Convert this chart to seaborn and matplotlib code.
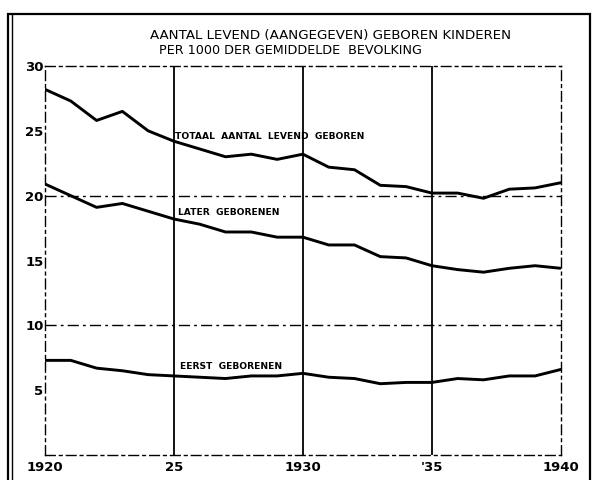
import numpy as np
import pandas as pd
import matplotlib.pyplot as plt
from matplotlib.patches import Rectangle
from matplotlib.lines import Line2D
import seaborn as sns

years = list(range(1920, 1941))
totaal = [28.2, 27.3, 25.8, 26.5, 25.0, 24.2, 23.6, 23.0, 23.2, 22.8, 23.2,
          22.2, 22.0, 20.8, 20.7, 20.2, 20.2, 19.8, 20.5, 20.6, 21.0]
later = [20.9, 20.0, 19.1, 19.4, 18.8, 18.2, 17.8, 17.2, 17.2, 16.8, 16.8,
         16.2, 16.2, 15.3, 15.2, 14.6, 14.3, 14.1, 14.4, 14.6, 14.4]
eerst = [7.3, 7.3, 6.7, 6.5, 6.2, 6.1, 6.0, 5.9, 6.1, 6.1, 6.3,
         6.0, 5.9, 5.5, 5.6, 5.6, 5.9, 5.8, 6.1, 6.1, 6.6]

series_labels = ["TOTAAL  AANTAL  LEVEND  GEBOREN", "LATER  GEBORENEN", "EERST  GEBORENEN"]
label_pos = [(1925.05, 24.6), (1925.15, 18.7), (1925.25, 6.8)]
xticks = [1920, 1925, 1930, 1935, 1940]
xticklabels = ["1920", "25", "1930", "'35", "1940"]
yticks = [5, 10, 15, 20, 25, 30]

df = pd.DataFrame({"jaar": years, "totaal": totaal, "later": later, "eerst": eerst})
long = df.melt(id_vars="jaar", var_name="reeks", value_name="per1000")

sns.set_style("white")
plt.rcParams['font.family'] = ['DejaVu Sans']
plt.rcParams['text.color'] = 'black'
plt.rcParams['xtick.color'] = 'black'
plt.rcParams['ytick.color'] = 'black'

fig = plt.figure(figsize=(5.95, 4.8), dpi=100)
ax = fig.add_axes([0.0756, 0.052, 0.867, 0.8105])

sns.lineplot(data=long, x="jaar", y="per1000", hue="reeks",
             palette={"totaal": "black", "later": "black", "eerst": "black"},
             linewidth=2.1, legend=False, ax=ax)

ax.set_xlim(1920, 1940)
ax.set_ylim(0, 30)
ax.set_xlabel("")
ax.set_ylabel("")

# grid as on the drawing
for x in [1925, 1930, 1935]:
    ax.axvline(x, color="black", lw=1.3, zorder=1)
for y in [10, 20]:
    ax.axhline(y, color="black", lw=1.0, ls=(0, (8, 3, 2, 3)), zorder=1)
for side in ["left", "bottom", "top", "right"]:
    ax.spines[side].set_visible(True)
    ax.spines[side].set_color("black")
    ax.spines[side].set_linewidth(1.0)
    ax.spines[side].set_linestyle((0, (7, 3, 2, 3)))

ax.set_xticks(xticks)
ax.set_xticklabels(xticklabels, fontsize=9.5, fontweight="bold")
ax.set_yticks(yticks)
ax.set_yticklabels([str(v) for v in yticks], fontsize=9.5, fontweight="bold")
ax.tick_params(axis="x", length=0, pad=4)
ax.tick_params(axis="y", length=3, width=1, pad=1, direction="in")

for txt, (x, y) in zip(series_labels, label_pos):
    ax.text(x, y, txt, fontsize=6.6, fontweight="bold", ha="left", va="center")

fig.text(150 / 595, 1 - 35 / 480, "AANTAL LEVEND (AANGEGEVEN) GEBOREN KINDEREN",
         ha="left", va="center", fontsize=9.6)
fig.text(159 / 595, 1 - 50 / 480, "PER 1000 DER GEMIDDELDE  BEVOLKING",
         ha="left", va="center", fontsize=9.2)

# outer frame of the plate
fig.patches.append(Rectangle((0.014, -0.05), 0.978, 1.02, transform=fig.transFigure,
                             fill=False, edgecolor="black", lw=1.6))
fig.lines.append(Line2D([0.021, 0.021], [0.0, 0.97], transform=fig.transFigure,
                        color="black", lw=1.0))

fig.savefig("out.png", dpi=100)
